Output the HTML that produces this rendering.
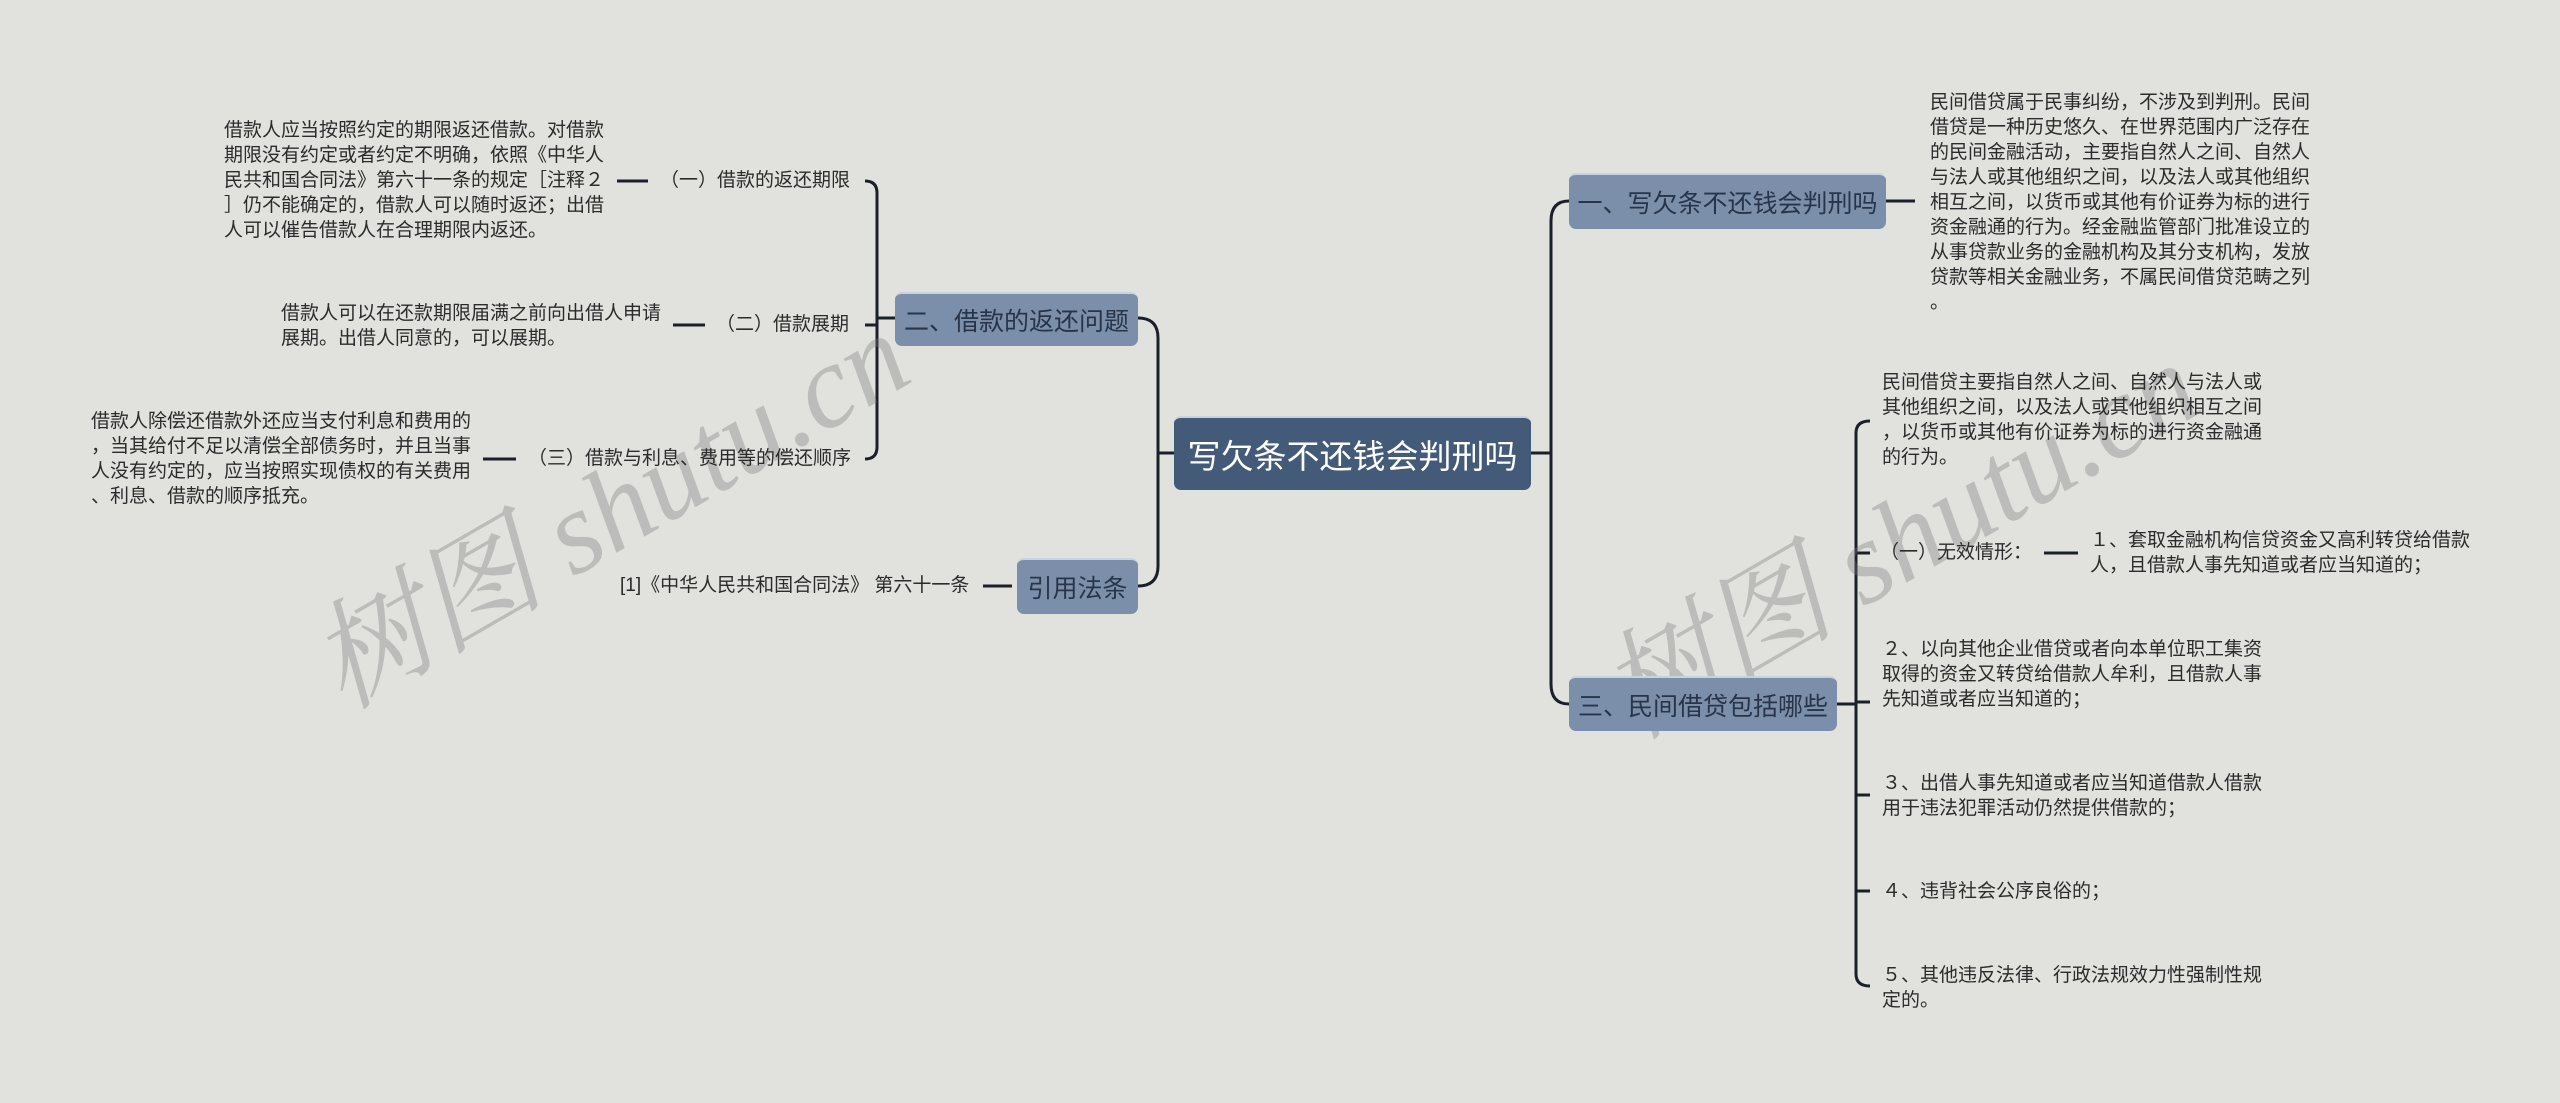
<!DOCTYPE html>
<html><head><meta charset="utf-8"><style>
body{margin:0;width:2560px;height:1103px;background:#e1e2de;position:relative;overflow:hidden;font-family:"Liberation Sans","Noto Sans CJK SC",sans-serif;}
.t{position:absolute;font-size:19px;line-height:25px;color:#2b2b2b;white-space:nowrap;}
.n{position:absolute;box-sizing:border-box;background:#7b8faa;color:#27344a;border-radius:7px;font-size:25px;display:flex;align-items:center;justify-content:center;white-space:nowrap;border-top:2px solid #c9d2de;}
.wm{position:absolute;font-size:118px;color:rgba(120,120,120,0.35);font-family:"Liberation Serif","Noto Serif CJK SC",serif;font-style:italic;white-space:nowrap;transform:rotate(-30deg);transform-origin:left bottom;}
</style></head><body>
<svg width="2560" height="1103" style="position:absolute;left:0;top:0" fill="none" stroke="#1b1f2a" stroke-width="3">
<path d="M1174 453 H1158"/>
<path d="M1138 318 Q1158 318 1158 338 V566 Q1158 586 1138 586"/>
<path d="M1531 453 H1551"/>
<path d="M1569 201 Q1551 201 1551 221 V684 Q1551 704 1569 704"/>
<path d="M895 318 H877"/>
<path d="M865 181 Q877 181 877 193 V447 Q877 459 865 459"/>
<path d="M865 325 H877"/>
<path d="M617 181 H648 M673 325 H705 M483 459 H516 M983 586 H1012 M1886 201 H1915 M2044 553 H2078"/>
<path d="M1837 704 H1856"/>
<path d="M1870 421 Q1856 421 1856 433 V974 Q1856 986 1870 986"/>
<path d="M1856 553 H1870 M1856 702 H1870 M1856 795 H1870 M1856 891 H1870"/>
</svg>
<div class="wm" style="left:360px;top:570px">树图 shutu.cn</div>
<div class="wm" style="left:1650px;top:600px">树图 shutu.cn</div>

<div class="n" style="left:1174px;top:416px;width:357px;height:74px;background:#435a78;color:#fff;font-size:33px;">写欠条不还钱会判刑吗</div>
<div class="n" style="left:1569px;top:173px;width:317px;height:56px;">一、写欠条不还钱会判刑吗</div>
<div class="n" style="left:1569px;top:676px;width:268px;height:55px;">三、民间借贷包括哪些</div>
<div class="n" style="left:895px;top:292px;width:243px;height:54px;">二、借款的返还问题</div>
<div class="n" style="left:1017px;top:558px;width:121px;height:56px;">引用法条</div>

<div class="t" style="left:224px;top:118px">借款人应当按照约定的期限返还借款。对借款<br>期限没有约定或者约定不明确，依照《中华人<br>民共和国合同法》第六十一条的规定［注释２<br>］仍不能确定的，借款人可以随时返还；出借<br>人可以催告借款人在合理期限内返还。</div>
<div class="t" style="left:660px;top:168px">（一）借款的返还期限</div>
<div class="t" style="left:281px;top:301px">借款人可以在还款期限届满之前向出借人申请<br>展期。出借人同意的，可以展期。</div>
<div class="t" style="left:716px;top:312px">（二）借款展期</div>
<div class="t" style="left:91px;top:409px">借款人除偿还借款外还应当支付利息和费用的<br>，当其给付不足以清偿全部债务时，并且当事<br>人没有约定的，应当按照实现债权的有关费用<br>、利息、借款的顺序抵充。</div>
<div class="t" style="left:528px;top:446px">（三）借款与利息、费用等的偿还顺序</div>
<div class="t" style="left:620px;top:573px">[1]《中华人民共和国合同法》 第六十一条</div>

<div class="t" style="left:1930px;top:90px">民间借贷属于民事纠纷，不涉及到判刑。民间<br>借贷是一种历史悠久、在世界范围内广泛存在<br>的民间金融活动，主要指自然人之间、自然人<br>与法人或其他组织之间，以及法人或其他组织<br>相互之间，以货币或其他有价证券为标的进行<br>资金融通的行为。经金融监管部门批准设立的<br>从事贷款业务的金融机构及其分支机构，发放<br>贷款等相关金融业务，不属民间借贷范畴之列<br>。</div>
<div class="t" style="left:1882px;top:370px">民间借贷主要指自然人之间、自然人与法人或<br>其他组织之间，以及法人或其他组织相互之间<br>，以货币或其他有价证券为标的进行资金融通<br>的行为。</div>
<div class="t" style="left:1880px;top:540px">（一）无效情形：</div>
<div class="t" style="left:2090px;top:528px">１、套取金融机构信贷资金又高利转贷给借款<br>人，且借款人事先知道或者应当知道的；</div>
<div class="t" style="left:1882px;top:637px">２、以向其他企业借贷或者向本单位职工集资<br>取得的资金又转贷给借款人牟利，且借款人事<br>先知道或者应当知道的；</div>
<div class="t" style="left:1882px;top:771px">３、出借人事先知道或者应当知道借款人借款<br>用于违法犯罪活动仍然提供借款的；</div>
<div class="t" style="left:1882px;top:879px">４、违背社会公序良俗的；</div>
<div class="t" style="left:1882px;top:963px">５、其他违反法律、行政法规效力性强制性规<br>定的。</div>
</body></html>
